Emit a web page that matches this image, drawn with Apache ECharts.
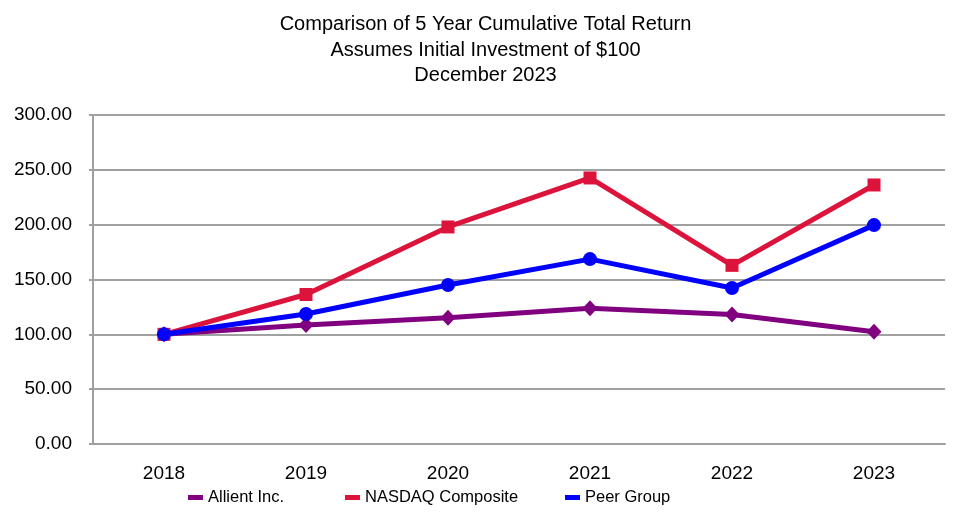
<!DOCTYPE html>
<html>
<head>
<meta charset="utf-8">
<script src="https://cdn.jsdelivr.net/npm/echarts@6/dist/echarts.min.js"></script>
<style>
html,body{margin:0;padding:0;background:#fff;}
#c{width:971px;height:516px;}
</style>
</head>
<body>
<div id="c"></div>
<script>
const years = ['2018','2019','2020','2021','2022','2023'];
const allient = [100.00, 108.5, 115.2, 123.8, 118.0, 102.3];
const nasdaq = [100.00, 136.3, 197.9, 242.6, 162.9, 236.2];
const peer = [100.00, 118.6, 145.0, 168.6, 142.3, 199.6];
const yTicks = [0, 50, 100, 150, 200, 250, 300];

const FONT = '"Liberation Sans", Arial, sans-serif';
const chart = echarts.init(document.getElementById('c'));

function legendAt(name, left) {
  return {
    data: [name], left: left, top: 489, padding: 0,
    icon: 'rect', itemWidth: 15, itemHeight: 5, itemGap: 5,
    textStyle: { fontFamily: FONT, fontSize: 16.5, color: '#000' },
    selectedMode: false
  };
}

chart.setOption({
  animation: false,
  backgroundColor: '#fff',
  title: {
    text: 'Comparison of 5 Year Cumulative Total Return\nAssumes Initial Investment of $100\nDecember 2023',
    left: 'center', top: 12, padding: 0,
    textStyle: { fontFamily: FONT, fontSize: 20, fontWeight: 'normal', color: '#000', lineHeight: 25.5 }
  },
  legend: [
    legendAt('Allient Inc.', 188),
    legendAt('NASDAQ Composite', 345),
    legendAt('Peer Group', 565)
  ],
  grid: { left: 93, right: 26, top: 115, bottom: 72, containLabel: false },
  xAxis: {
    type: 'category', data: years, boundaryGap: true,
    axisLine: { lineStyle: { color: '#a0a0a0', width: 2 } },
    axisTick: { show: false },
    axisLabel: { fontFamily: FONT, fontSize: 19, color: '#000', margin: 20 }
  },
  yAxis: {
    type: 'value', min: 0, max: 300, interval: 50,
    axisLine: { show: true, lineStyle: { color: '#a0a0a0', width: 2 } },
    axisTick: { show: true, length: 4, lineStyle: { color: '#a0a0a0', width: 2 } },
    splitLine: { lineStyle: { color: '#a0a0a0', width: 2 } },
    axisLabel: {
      fontFamily: FONT, fontSize: 19, color: '#000', margin: 21,
      padding: [3, 0, 0, 0],
      formatter: v => v.toFixed(2)
    }
  },
  series: [
    {
      name: 'Allient Inc.', type: 'line', data: allient,
      color: '#800080',
      lineStyle: { width: 5, color: '#800080' },
      symbol: 'diamond', symbolSize: [15, 16],
      itemStyle: { color: '#800080' }, z: 3
    },
    {
      name: 'NASDAQ Composite', type: 'line', data: nasdaq,
      color: '#DC143C',
      lineStyle: { width: 5, color: '#DC143C' },
      symbol: 'rect', symbolSize: 13,
      itemStyle: { color: '#DC143C' }, z: 2
    },
    {
      name: 'Peer Group', type: 'line', data: peer,
      color: '#0000FF',
      lineStyle: { width: 5, color: '#0000FF' },
      symbol: 'circle', symbolSize: 14,
      itemStyle: { color: '#0000FF' }, z: 4
    }
  ]
});
</script>
</body>
</html>
